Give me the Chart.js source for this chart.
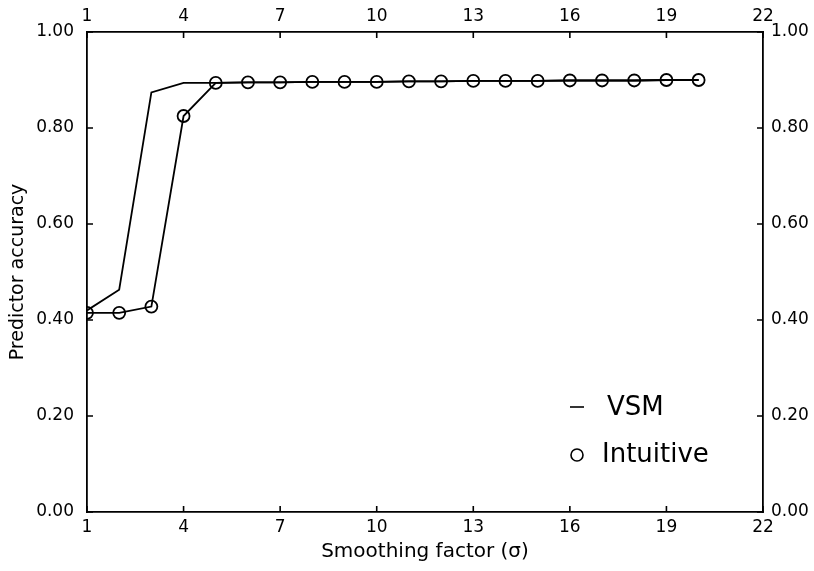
<!DOCTYPE html>
<html>
<head>
<meta charset="utf-8">
<script src="https://cdn.jsdelivr.net/npm/chart.js@4"></script>
<style>
  body { margin: 0; background: #fff; }
  canvas { display: block; }
</style>
</head>
<body>
<canvas id="accChart" width="814" height="571"></canvas>
<script>
// smoothing factor values (x) and the two predictor series
const sigma = [1, 2, 3, 4, 5, 6, 7, 8, 9, 10, 11, 12, 13, 14, 15, 16, 17, 18, 19, 20];
const vsm = [0.42, 0.463, 0.874, 0.894, 0.894, 0.895, 0.895, 0.896, 0.896, 0.896, 0.897, 0.897, 0.898, 0.898, 0.898, 0.899, 0.899, 0.899, 0.900, 0.900];
const intuitive = [0.415, 0.415, 0.428, 0.825, 0.894, 0.895, 0.895, 0.896, 0.896, 0.896, 0.897, 0.897, 0.898, 0.898, 0.898, 0.899, 0.899, 0.899, 0.900, 0.900];
const xTicks = [1, 4, 7, 10, 13, 16, 19, 22];
const yTicks = [0, 0.2, 0.4, 0.6, 0.8, 1.0];

const FONT = "'DejaVu Sans', sans-serif";

function toPoints(ys) {
    return sigma.map((x, i) => ({ x: x, y: ys[i] }));
}

// fixed axis sizes so the frame lands where the original one is
function fixSize(size) {
    return function(scale) {
        if (scale.isHorizontal()) scale.height = size;
        else scale.width = size;
    };
}

// inward tick marks on all four sides + legend text
const innerTicks = {
    id: 'innerTicks',
    afterDraw(chart) {
        const ctx = chart.ctx;
        const a = chart.chartArea;
        const len = 6;
        ctx.save();
        ctx.strokeStyle = '#000';
        ctx.lineWidth = 1.6;
        ctx.beginPath();
        const xs = chart.scales.x;
        xTicks.forEach(v => {
            const px = xs.getPixelForValue(v);
            ctx.moveTo(px, a.bottom); ctx.lineTo(px, a.bottom - len);
            ctx.moveTo(px, a.top); ctx.lineTo(px, a.top + len);
        });
        const ys = chart.scales.y;
        yTicks.forEach(v => {
            const py = ys.getPixelForValue(v);
            ctx.moveTo(a.left, py); ctx.lineTo(a.left + len, py);
            ctx.moveTo(a.right, py); ctx.lineTo(a.right - len, py);
        });
        ctx.stroke();

        // legend
        ctx.fillStyle = '#000';
        ctx.font = "26px " + FONT;
        ctx.textBaseline = 'middle';
        ctx.beginPath();
        ctx.moveTo(570, 407); ctx.lineTo(584, 407);
        ctx.stroke();
        ctx.fillText('VSM', 607, 408);
        ctx.beginPath();
        ctx.arc(577, 455, 6, 0, Math.PI * 2);
        ctx.stroke();
        ctx.fillText('Intuitive', 602, 455);
        ctx.restore();
    }
};

const tickFont = { family: FONT, size: 17 };

new Chart(document.getElementById('accChart').getContext('2d'), {
    type: 'line',
    data: {
        datasets: [{
            label: 'VSM',
            data: toPoints(vsm),
            borderColor: '#000',
            borderWidth: 1.8,
            pointRadius: 0,
            fill: false,
            tension: 0
        }, {
            label: 'Intuitive',
            data: toPoints(intuitive),
            borderColor: '#000',
            borderWidth: 1.8,
            pointRadius: 6,
            pointBorderWidth: 1.8,
            pointBorderColor: '#000',
            pointBackgroundColor: 'rgba(0,0,0,0)',
            fill: false,
            tension: 0
        }]
    },
    options: {
        responsive: false,
        animation: false,
        layout: { padding: 0 },
        plugins: {
            legend: { display: false },
            tooltip: { enabled: false }
        },
        scales: {
            x: {
                type: 'linear',
                position: 'bottom',
                min: 1,
                max: 22,
                afterBuildTicks: s => { s.ticks = xTicks.map(v => ({ value: v })); },
                afterFit: fixSize(59),
                grid: { display: false, drawTicks: false },
                border: { display: true, color: '#000', width: 1.8 },
                ticks: { color: '#000', font: tickFont, padding: 5, maxRotation: 0, autoSkip: false },
                title: {
                    display: true,
                    text: 'Smoothing factor (σ)',
                    color: '#000',
                    font: { family: FONT, size: 20 },
                    padding: { top: 0, bottom: 7 }
                }
            },
            x2: {
                type: 'linear',
                position: 'top',
                min: 1,
                max: 22,
                afterBuildTicks: s => { s.ticks = xTicks.map(v => ({ value: v })); },
                afterFit: fixSize(32),
                grid: { display: false, drawTicks: false },
                border: { display: true, color: '#000', width: 1.8 },
                ticks: { color: '#000', font: tickFont, padding: 5, maxRotation: 0, autoSkip: false }
            },
            y: {
                type: 'linear',
                position: 'left',
                min: 0,
                max: 1,
                afterBuildTicks: s => { s.ticks = yTicks.map(v => ({ value: v })); },
                afterFit: fixSize(87),
                grid: { display: false, drawTicks: false },
                border: { display: true, color: '#000', width: 1.8 },
                ticks: { color: '#000', font: tickFont, padding: 13, callback: v => v.toFixed(2) },
                title: {
                    display: true,
                    text: 'Predictor accuracy',
                    color: '#000',
                    font: { family: FONT, size: 19 },
                    padding: { top: 7, bottom: 0 }
                }
            },
            y2: {
                type: 'linear',
                position: 'right',
                min: 0,
                max: 1,
                afterBuildTicks: s => { s.ticks = yTicks.map(v => ({ value: v })); },
                afterFit: fixSize(51),
                grid: { display: false, drawTicks: false },
                border: { display: true, color: '#000', width: 1.8 },
                ticks: { color: '#000', font: tickFont, padding: 8, callback: v => v.toFixed(2) }
            }
        }
    },
    plugins: [innerTicks]
});
</script>
</body>
</html>
